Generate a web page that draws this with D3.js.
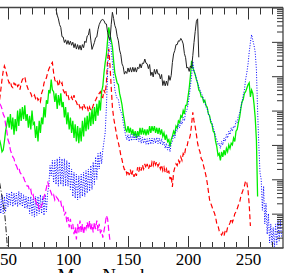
<!DOCTYPE html>
<meta charset="utf-8">
<script src="https://d3js.org/d3.v7.min.js"></script>
<style>
body { margin: 0; background: #fff; }
svg { display: block; }
.lbl text { font-family: "Liberation Serif", "DejaVu Serif", serif; font-size: 17px; fill: #000; }
</style>
<body>
<script>

// log10 of abundance, one value per mass number, starting at the given A
var blackStart = 90;
var blackLog = [
  -0.05,-0.22,-0.33,-0.50,-0.58,-0.85,-0.86,-1.02,-0.94,-1.07,
  -0.96,-1.08,-0.98,-1.10,-1.01,-1.17,-1.05,-1.21,-1.08,-1.22,
  -1.10,-1.24,-1.08,-1.17,-0.98,-1.02,-0.83,-0.80,-0.62,-0.95,
  -1.22,-1.12,-1.02,-0.88,-0.86,-0.64,-0.50,-0.42,-0.36,-0.35,
  -0.38,-0.47,-0.48,-0.72,-0.88,-0.95,-0.50,-0.14,-0.32,-0.52,
  -0.62,-0.84,-0.97,-1.24,-1.37,-1.64,-1.72,-1.94,-1.86,-1.92,
  -1.76,-1.88,-1.75,-1.88,-1.74,-1.87,-1.75,-1.88,-1.74,-1.78,
  -1.64,-1.76,-1.62,-1.63,-1.50,-1.62,-1.64,-1.78,-1.66,-1.98,
  -1.88,-2.02,-1.80,-1.94,-1.80,-1.94,-1.93,-2.08,-1.95,-2.27,
  -2.13,-2.28,-2.14,-2.27,-1.98,-2.12,-1.98,-1.60,-1.35,-1.25,
  -1.08,-1.08,-0.97,-0.98,-0.90,-0.96,-1.06,-1.34,-1.46,-1.76,
  -1.74,-1.86,-1.70,-1.76,-1.40,-1.02,-0.70,-0.40,-0.33,-1.45
];

var redStart = 43;
var redLog = [
  -2.68,-2.40,-2.10,-1.85,-1.70,-1.80,-1.95,-2.10,-2.20,-2.15,
  -2.30,-2.33,-2.20,-2.25,-2.19,-2.30,-2.25,-2.39,-2.20,-2.10,
  -2.05,-2.01,-2.20,-2.30,-2.40,-2.45,-2.50,-2.60,-2.62,-2.55,
  -2.65,-2.59,-2.70,-2.65,-2.74,-2.50,-2.40,-2.20,-2.10,-2.05,
  -1.90,-1.80,-1.72,-1.65,-1.60,-1.90,-2.10,-2.20,-2.15,-2.30,
  -2.15,-2.25,-2.19,-2.40,-2.48,-2.40,-2.60,-2.55,-2.70,-2.68,
  -2.60,-2.70,-2.55,-2.70,-2.75,-2.85,-2.80,-2.92,-2.85,-2.95,
  -2.80,-2.90,-2.95,-2.88,-3.03,-2.90,-3.00,-2.97,-2.85,-2.75,
  -2.70,-2.62,-2.55,-2.50,-2.45,-2.60,-2.62,-2.40,-2.50,-2.20,
  -1.50,-1.20,-1.70,-2.30,-2.90,-3.20,-3.41,-3.60,-3.80,-3.94,
  -4.10,-4.30,-4.43,-4.60,-4.72,-4.70,-4.85,-4.75,-4.88,-4.72,
  -4.90,-4.75,-4.93,-4.80,-4.90,-4.65,-4.78,-4.63,-4.75,-4.58,
  -4.70,-4.55,-4.68,-4.55,-4.70,-4.60,-4.68,-4.50,-4.60,-4.45,
  -4.58,-4.49,-4.62,-4.55,-4.70,-4.58,-4.75,-4.65,-4.80,-4.70,
  -4.85,-4.75,-5.00,-4.90,-5.22,-4.80,-4.66,-4.55,-4.60,-4.45,
  -4.52,-4.35,-4.45,-4.25,-4.31,-4.10,-4.08,-3.90,-3.85,-3.70,
  -3.40,-3.05,-3.30,-3.47,-3.70,-3.95,-4.11,-4.20,-4.40,-4.45,
  -4.61,-4.75,-4.90,-5.10,-5.35,-5.60,-5.70,-5.80,-5.90,-5.98,
  -6.10,-6.30,-6.35,-6.50,-6.56,-6.62,-6.55,-6.65,-6.50,-6.56,
  -6.40,-6.35,-6.27,-6.15,-6.25,-6.15,-6.00,-5.95,-5.86,-5.75,
  -5.68,-5.50,-5.40,-5.30,-5.20,-5.04,-5.10,-5.31,-5.74,-6.36
];

var greenStart = 43;
var greenLog = [
  -3.85,-4.00,-4.20,-4.15,-3.90,-3.60,-3.40,-3.18,-3.50,-3.10,
  -3.55,-3.20,-3.70,-3.25,-3.60,-3.00,-3.45,-2.95,-3.30,-2.90,
  -3.25,-2.85,-3.30,-3.10,-3.50,-3.15,-3.55,-3.00,-3.40,-3.35,
  -3.80,-3.45,-3.90,-3.30,-3.65,-3.20,-3.40,-2.90,-3.20,-2.70,
  -2.80,-2.40,-2.50,-2.10,-2.40,-2.45,-2.75,-2.50,-2.95,-2.55,
  -2.85,-2.50,-2.90,-2.75,-3.20,-2.90,-3.40,-3.05,-3.55,-3.20,
  -3.65,-3.30,-3.80,-3.40,-3.90,-3.45,-3.95,-3.50,-3.90,-3.30,
  -3.75,-3.20,-3.60,-3.15,-3.55,-3.05,-3.45,-2.95,-3.40,-2.90,
  -3.30,-2.80,-3.15,-2.70,-3.00,-2.45,-2.30,-1.90,-1.60,-1.37,
  -0.95,-0.58,-0.80,-0.95,-1.14,-1.55,-1.90,-2.05,-2.20,-2.24,
  -2.50,-2.65,-2.83,-3.10,-3.30,-3.55,-3.61,-3.45,-3.65,-3.50,
  -3.70,-3.55,-3.75,-3.60,-3.80,-3.60,-3.75,-3.50,-3.70,-3.50,
  -3.70,-3.55,-3.72,-3.55,-3.70,-3.45,-3.65,-3.45,-3.60,-3.45,
  -3.65,-3.50,-3.68,-3.50,-3.70,-3.55,-3.75,-3.65,-3.85,-3.70,
  -3.90,-3.85,-4.05,-3.85,-3.75,-3.60,-3.68,-3.45,-3.50,-3.30,
  -3.35,-3.15,-3.20,-3.00,-3.10,-2.85,-2.85,-2.60,-2.35,-2.00,
  -1.55,-1.75,-1.85,-1.95,-2.10,-2.20,-2.40,-2.45,-2.60,-2.60,
  -2.75,-2.70,-2.85,-2.90,-3.10,-3.15,-3.35,-3.40,-3.60,-3.65,
  -3.90,-4.05,-4.30,-4.25,-4.45,-4.20,-4.35,-4.15,-4.30,-4.10,
  -4.20,-4.00,-4.10,-3.95,-4.00,-3.80,-3.90,-3.60,-3.55,-3.35,
  -3.20,-2.95,-2.75,-2.68,-2.50,-2.45,-2.35,-2.25,-2.19,-2.60,
  -2.40,-2.50,-2.80,-3.20,-3.85,-5.50
];

var blueStart = 43;
var blueLog = [
  -5.50,-6.00,-5.45,-6.00,-5.50,-5.95,-5.40,-5.80,-5.40,-5.75,
  -5.35,-5.80,-5.40,-5.75,-5.40,-5.80,-5.35,-5.75,-5.40,-5.80,
  -5.45,-5.85,-5.50,-5.85,-5.50,-6.00,-5.50,-6.05,-5.55,-6.10,
  -5.50,-6.05,-5.50,-6.00,-5.45,-6.00,-5.50,-6.05,-5.45,-5.95,
  -5.40,-5.20,-4.60,-4.90,-4.45,-5.10,-4.45,-5.15,-4.40,-5.20,
  -4.35,-5.15,-4.40,-5.20,-4.40,-5.20,-4.45,-5.20,-4.50,-5.30,
  -4.70,-5.50,-4.80,-5.55,-4.85,-5.60,-4.90,-5.55,-4.85,-5.50,
  -4.80,-5.50,-4.75,-5.40,-4.70,-5.35,-4.60,-5.30,-4.50,-5.15,
  -4.35,-5.00,-4.25,-4.70,-4.20,-4.55,-4.15,-3.90,-3.64,-2.90,
  -1.90,-1.10,-0.85,-1.20,-1.60,-2.00,-2.39,-2.55,-2.65,-2.68,
  -2.90,-3.03,-3.10,-3.35,-3.55,-3.70,-3.85,-3.70,-3.90,-3.70,
  -3.88,-3.70,-3.85,-3.70,-3.88,-3.72,-3.90,-3.75,-3.95,-3.78,
  -3.95,-3.80,-3.98,-3.82,-4.00,-3.80,-3.98,-3.80,-3.96,-3.80,
  -3.95,-3.78,-3.96,-3.80,-3.98,-3.82,-4.00,-3.90,-4.10,-3.95,
  -4.15,-4.00,-4.20,-3.95,-3.90,-3.70,-3.80,-3.55,-3.60,-3.40,
  -3.50,-3.30,-3.40,-3.20,-3.30,-3.05,-3.00,-2.83,-2.60,-2.30,
  -2.00,-1.57,-1.85,-1.95,-2.05,-2.20,-2.30,-2.40,-2.50,-2.55,
  -2.70,-2.75,-2.90,-2.95,-3.10,-3.18,-3.30,-3.35,-3.50,-3.60,
  -3.75,-3.85,-4.00,-3.95,-4.10,-3.90,-4.00,-3.80,-3.90,-3.70,
  -3.80,-3.60,-3.70,-3.50,-3.60,-3.45,-3.50,-3.30,-3.35,-3.15,
  -3.10,-2.90,-2.75,-2.55,-2.40,-2.10,-1.90,-1.66,-1.30,-1.02,
  -0.79,-0.95,-1.10,-1.30,-1.80,-3.00,-4.00,-4.81,-5.00,-5.90,
  -5.20,-6.30,-5.70,-6.60,-6.00,-6.85,-6.30,-6.90,-6.40,-7.00,
  -6.30,-6.90,-6.20,-6.80,-6.20,-6.70
];

var magentaStart = 43;
var magentaLog = [
  -2.80,-2.85,-2.95,-3.10,-3.18,-3.40,-3.60,-3.85,-3.95,-4.15,
  -4.25,-4.35,-4.40,-4.55,-4.60,-4.70,-4.65,-4.80,-4.85,-4.90,
  -4.95,-5.05,-5.10,-5.20,-5.20,-5.35,-5.30,-5.50,-5.45,-5.65,
  -5.60,-5.75,-5.70,-5.90,-5.85,-5.75,-5.68,-5.50,-5.40,-5.25,
  -5.07,-5.20,-5.30,-5.40,-5.50,-5.45,-5.60,-5.50,-5.55,-5.60,
  -5.70,-5.65,-5.85,-5.80,-6.05,-5.95,-6.25,-6.10,-6.40,-6.15,
  -6.45,-6.30,-6.60,-6.40,-6.75,-6.30,-6.55,-6.20,-6.55,-6.30,
  -6.60,-6.35,-6.45,-6.25,-6.45,-6.20,-6.50,-6.30,-6.55,-6.25,
  -6.45,-6.20,-6.50,-6.30,-6.55,-6.50,-6.70,-6.50,-6.30,-6.05,
  -6.15,-6.50,-6.80
];

var dashDotStart = 43;
var dashDotLog = [-5.10,-5.30,-5.50,-5.70,-5.90,-6.30,-6.75,-7.20];

var xMajorTicks = [50, 100, 150, 200, 250];
var xMinorTicks = [60, 70, 80, 90, 110, 120, 130, 140, 160, 170, 180, 190, 210, 220, 230, 240, 260, 270];
var xTitle = "Mass Number";

var width = 284, height = 273;
var plotL = 0, plotR = 283, plotT = 7.5, plotB = 248;

var svg = d3.select("body").append("svg")
    .attr("width", width)
    .attr("height", height);

var x = d3.scaleLinear().domain([50, 250]).range([8, 248]);
var y = d3.scaleLog().domain([1e-7, 1]).range([plotB, plotT]);

svg.append("clipPath").attr("id", "plot")
  .append("rect")
    .attr("x", plotL).attr("y", plotT)
    .attr("width", plotR - plotL).attr("height", plotB - plotT);

function pts(start, vals) {
  return vals.map(function(v, i) { return { a: start + i, v: Math.pow(10, v) }; });
}

var line = d3.line()
    .x(function(d) { return x(d.a); })
    .y(function(d) { return y(d.v); });

var series = [
  { data: pts(greenStart, greenLog), color: "#00ee00", dash: null, w: 1.3 },
  { data: pts(redStart, redLog), color: "#ff0000", dash: "5,3", w: 1.2 },
  { data: pts(blueStart, blueLog), color: "#0000ff", dash: "1,1.6", w: 1 },
  { data: pts(magentaStart, magentaLog), color: "#ff00ff", dash: "6,3", w: 1.2 },
  { data: pts(blackStart, blackLog), color: "#222", dash: null, w: 1 },
  { data: pts(dashDotStart, dashDotLog), color: "#222", dash: "6,2,1,2", w: 1 }
];

var g = svg.append("g").attr("clip-path", "url(#plot)");
g.selectAll("path")
  .data(series)
  .enter().append("path")
    .attr("d", function(d) { return line(d.data); })
    .attr("fill", "none")
    .attr("stroke", function(d) { return d.color; })
    .attr("stroke-width", function(d) { return d.w; })
    .attr("stroke-dasharray", function(d) { return d.dash; });

// top axis (ticks inward)
svg.append("g").attr("transform", "translate(0," + plotT + ")")
  .call(d3.axisBottom(x).tickValues(xMinorTicks).tickSize(7).tickSizeOuter(0).tickFormat(""));
svg.append("g").attr("transform", "translate(0," + plotT + ")")
  .call(d3.axisBottom(x).tickValues(xMajorTicks).tickSize(12).tickSizeOuter(0).tickFormat(""));

// bottom axis
svg.append("g").attr("transform", "translate(0," + plotB + ")")
  .call(d3.axisBottom(x).tickValues(xMinorTicks).tickSize(-6).tickSizeOuter(0).tickFormat(""));
svg.append("g").attr("class", "lbl").attr("transform", "translate(0," + plotB + ")")
  .call(d3.axisBottom(x).tickValues(xMajorTicks).tickSize(-12).tickSizeOuter(0).tickPadding(5).tickFormat(d3.format("d")));

// right axis (log)
var yTicks = y.ticks();
var yMajor = yTicks.filter(function(t) { return Math.abs(Math.log10(t) - Math.round(Math.log10(t))) < 1e-6; });
var yMinor = yTicks.filter(function(t) { return yMajor.indexOf(t) < 0; });
svg.append("g").attr("transform", "translate(" + plotR + ",0)")
  .call(d3.axisLeft(y).tickValues(yMinor).tickSize(6).tickSizeOuter(0).tickFormat(""));
svg.append("g").attr("transform", "translate(" + plotR + ",0)")
  .call(d3.axisLeft(y).tickValues(yMajor).tickSize(11).tickSizeOuter(0).tickFormat(""));

svg.selectAll(".domain").remove();
svg.selectAll(".tick line").attr("stroke", "#333");

// frame lines
svg.append("line").attr("x1", 0).attr("x2", plotR).attr("y1", plotT).attr("y2", plotT)
  .attr("stroke", "#444").attr("stroke-width", 1.3);
svg.append("line").attr("x1", 0).attr("x2", plotR + 0.5).attr("y1", plotB).attr("y2", plotB)
  .attr("stroke", "#666").attr("stroke-width", 2);
svg.append("line").attr("x1", plotR).attr("x2", plotR).attr("y1", plotT).attr("y2", plotB)
  .attr("stroke", "#444").attr("stroke-width", 1.3);

svg.append("text")
  .attr("x", 111).attr("y", 282)
  .attr("text-anchor", "middle")
  .attr("font-family", "Liberation Serif, serif")
  .attr("font-size", 19)
  .text(xTitle);

</script>
</body>
</html>
